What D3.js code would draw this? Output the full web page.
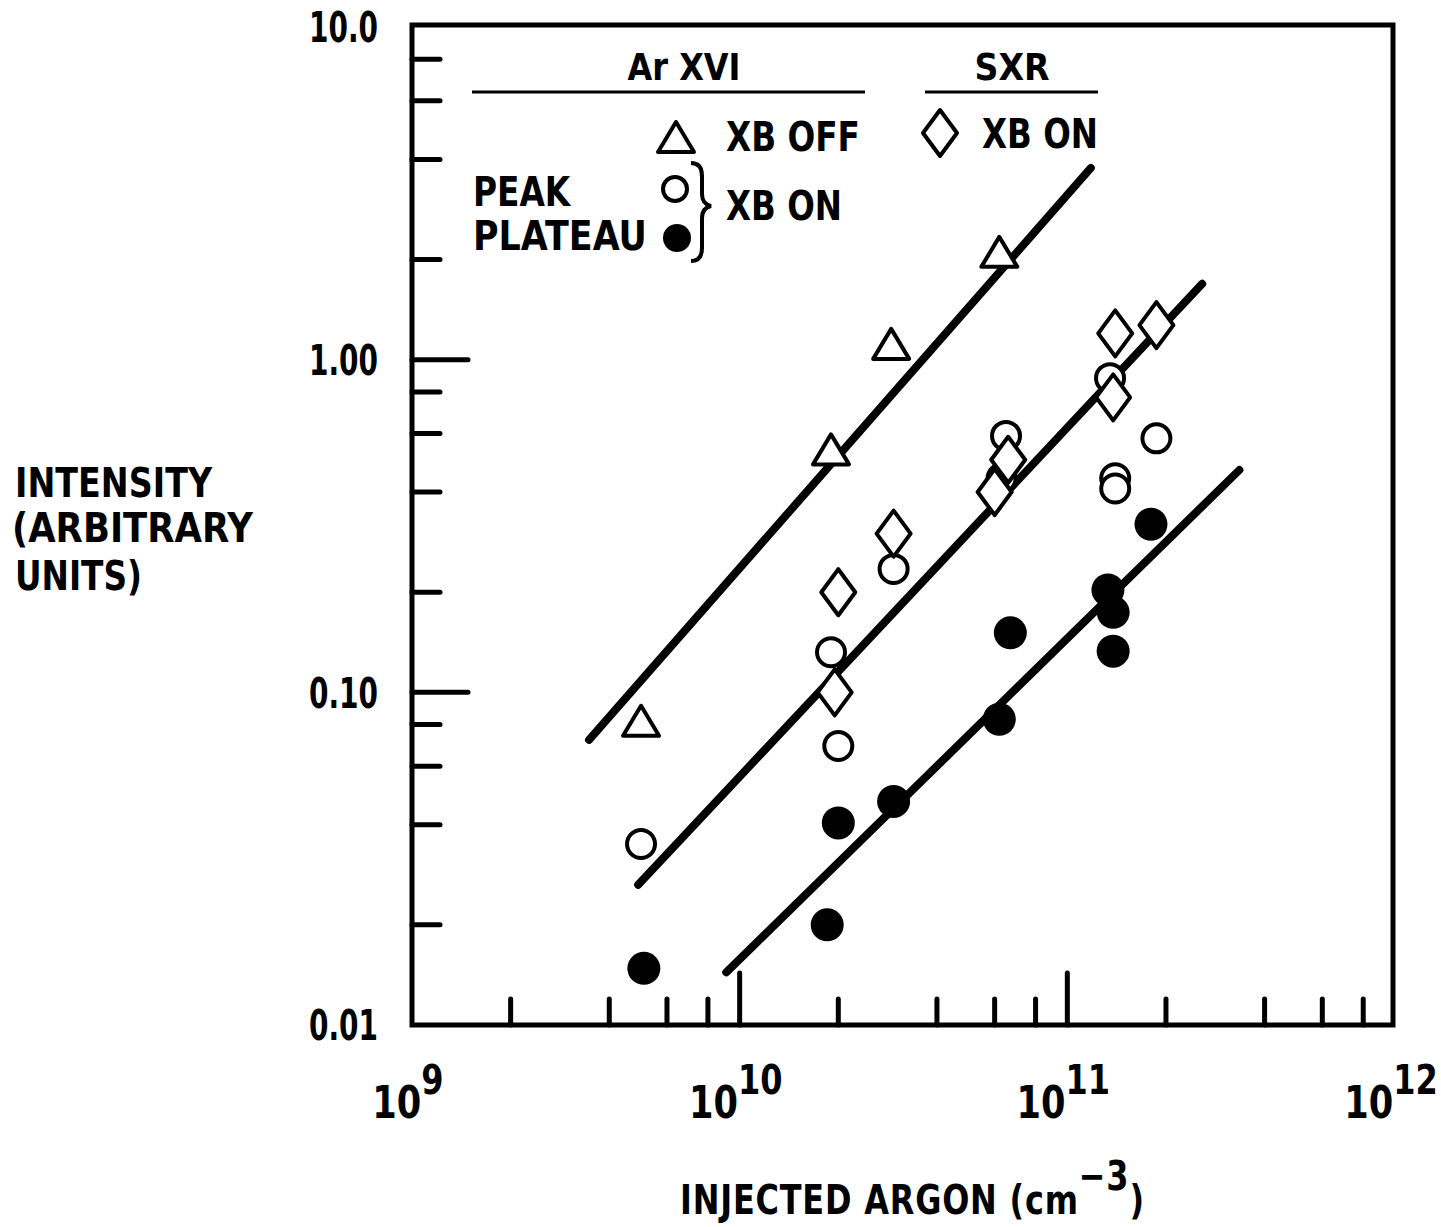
<!DOCTYPE html>
<meta charset="utf-8">
<style>
body { margin: 0; background: #fff; }
svg text {
  font-family: "DejaVu Sans", sans-serif;
  font-weight: bold;
  fill: #000;
}
.frame { fill: none; stroke: #000; stroke-width: 5px; }
.tick { stroke: #000; stroke-width: 5px; stroke-linecap: round; }
.fit { stroke: #000; stroke-width: 8px; stroke-linecap: round; }
</style>
<html>
  <head>
    <script type="text/javascript" src="https://cdn.jsdelivr.net/npm/d3@7"></script>
  </head>
  <body>
    <script type="text/javascript">
var width = 1441
  , height = 1227
  , plotLeft = 412, plotRight = 1395, plotTop = 27, plotBottom = 1025

// tick values
var xMajor = [1e9, 1e10, 1e11, 1e12]
  , xExp = ["9", "10", "11", "12"]
  , yMajor = [0.01, 0.1, 1, 10]
  , yLabels = ["0.01", "0.10", "1.00", "10.0"]
  , mults = [2, 4, 6, 8]

// Ar XVI, XB OFF (triangles)
var triX = [5.0e9, 1.9e10, 2.9e10, 6.2e10]
  , triY = [0.081, 0.53, 1.1, 2.08]

// Ar XVI peak, XB ON (open circles)
var peakX = [5.0e9, 1.9e10, 2.0e10, 2.95e10, 6.5e10, 6.3e10, 1.35e11, 1.4e11, 1.4e11, 1.87e11]
  , peakY = [0.035, 0.132, 0.069, 0.235, 0.59, 0.44, 0.88, 0.44, 0.41, 0.58]

// Ar XVI plateau, XB ON (filled circles)
var platX = [5.1e9, 1.85e10, 2.0e10, 2.95e10, 6.2e10, 6.7e10, 1.33e11, 1.38e11, 1.38e11, 1.8e11]
  , platY = [0.0148, 0.02, 0.0405, 0.047, 0.083, 0.151, 0.203, 0.174, 0.133, 0.32]

// SXR, XB ON (diamonds)
var sxrX = [1.95e10, 2.0e10, 2.95e10, 6.0e10, 6.6e10, 1.38e11, 1.4e11, 1.87e11]
  , sxrY = [0.1, 0.2, 0.3, 0.4, 0.5, 0.77, 1.2, 1.27]

// fitted lines [x0, y0, x1, y1]
var fitTop = [3.47e9, 0.072, 1.18e11, 3.77]
  , fitMid = [4.9e9, 0.0264, 2.58e11, 1.69]
  , fitLow = [9.1e9, 0.0144, 3.35e11, 0.466]

var x = d3.scaleLog().domain([1e9, 1e12]).range([plotLeft, plotRight])
var y = d3.scaleLog().domain([0.01, 10]).range([plotBottom, plotTop])

var svg = d3.select("body").append("svg")
    .attr("width", width)
    .attr("height", height)

// squeeze a text horizontally (condensed look) about its anchor x
function squeeze(sel, k) {
  sel.each(function() {
    var ax = +this.getAttribute("x")
    this.setAttribute("transform", "translate(" + ax + ",0) scale(" + k + ",1) translate(" + (-ax) + ",0)")
  })
}
function fitWidth(sel, w) {
  sel.each(function() {
    var bw = this.getBBox().width
    squeeze(d3.select(this), w / bw)
  })
}

// minor + major ticks
var xTicks = []
xMajor.slice(0, 3).forEach(function(d) {
  mults.forEach(function(m) { xTicks.push({v: d * m, len: 26}) })
  if (d > 1e9) xTicks.push({v: d, len: 52})
})
svg.selectAll(".xtick").data(xTicks).enter().append("line")
    .attr("class", "tick")
    .attr("x1", function(d) { return x(d.v) }).attr("x2", function(d) { return x(d.v) })
    .attr("y1", plotBottom).attr("y2", function(d) { return plotBottom - d.len })

var yTicks = []
yMajor.slice(0, 3).forEach(function(d) {
  mults.forEach(function(m) { yTicks.push({v: d * m, len: 28}) })
  if (d > 0.01) yTicks.push({v: d, len: 56})
})
svg.selectAll(".ytick").data(yTicks).enter().append("line")
    .attr("class", "tick")
    .attr("y1", function(d) { return y(d.v) }).attr("y2", function(d) { return y(d.v) })
    .attr("x1", plotLeft).attr("x2", function(d) { return plotLeft + d.len })

svg.append("rect").attr("class", "frame")
    .attr("x", plotLeft).attr("y", plotTop - 2)
    .attr("width", plotRight - plotLeft - 2).attr("height", plotBottom - plotTop + 2)

// y tick labels
svg.selectAll(".ylab").data(yMajor).enter().append("text")
    .attr("x", 378)
    .attr("y", function(d) { return y(d) })
    .attr("dy", "0.36em")
    .attr("text-anchor", "end")
    .style("font-size", "43px")
    .text(function(d, i) { return yLabels[i] })
    .call(fitWidth, 69)

// x tick labels: 10 with exponent, centred under the tick
var xl = svg.selectAll(".xlab").data(xMajor).enter().append("text")
    .attr("x", function(d) { return x(d) - 4 })
    .attr("y", 1118)
    .attr("text-anchor", "middle")
    .style("font-size", "44px")
xl.append("tspan").text("10")
xl.append("tspan").attr("dy", -24).style("font-size", "40px")
    .text(function(d, i) { return xExp[i] })
xl.call(squeeze, 0.8)

// fitted lines
svg.selectAll(".fit").data([fitTop, fitMid, fitLow]).enter().append("line")
    .attr("class", "fit")
    .attr("x1", function(d) { return x(d[0]) }).attr("y1", function(d) { return y(d[1]) })
    .attr("x2", function(d) { return x(d[2]) }).attr("y2", function(d) { return y(d[3]) })

var triPath = "M0,-17L18,13L-18,13Z"
  , diaPath = "M0,-23L17,0L0,23L-17,0Z"

function pts(xs, ys) { return xs.map(function(v, i) { return [v, ys[i]] }) }

svg.selectAll(".plat").data(pts(platX, platY)).enter().append("circle")
    .attr("cx", function(d) { return x(d[0]) }).attr("cy", function(d) { return y(d[1]) })
    .attr("r", 16.5).attr("fill", "#000")

svg.selectAll(".peak").data(pts(peakX, peakY)).enter().append("circle")
    .attr("cx", function(d) { return x(d[0]) }).attr("cy", function(d) { return y(d[1]) })
    .attr("r", 14).attr("fill", "#fff").attr("stroke", "#000").attr("stroke-width", 4)

svg.selectAll(".sxr").data(pts(sxrX, sxrY)).enter().append("path")
    .attr("d", diaPath)
    .attr("transform", function(d) { return "translate(" + x(d[0]) + "," + y(d[1]) + ")" })
    .attr("fill", "#fff").attr("stroke", "#000").attr("stroke-width", 4).attr("stroke-linejoin", "round")

svg.selectAll(".tri").data(pts(triX, triY)).enter().append("path")
    .attr("d", triPath)
    .attr("transform", function(d) { return "translate(" + x(d[0]) + "," + y(d[1]) + ")" })
    .attr("fill", "#fff").attr("stroke", "#000").attr("stroke-width", 4).attr("stroke-linejoin", "round")

// legend
var lg = svg.append("g")
lg.append("text").attr("x", 684).attr("y", 80).attr("text-anchor", "middle")
    .style("font-size", "37px").text("Ar XVI").call(fitWidth, 113)
lg.append("line").attr("x1", 472).attr("x2", 865).attr("y1", 92).attr("y2", 92)
    .attr("stroke", "#000").attr("stroke-width", 3)
lg.append("text").attr("x", 1012).attr("y", 80).attr("text-anchor", "middle")
    .style("font-size", "37px").text("SXR").call(fitWidth, 75)
lg.append("line").attr("x1", 925).attr("x2", 1098).attr("y1", 92).attr("y2", 92)
    .attr("stroke", "#000").attr("stroke-width", 3)

lg.append("path").attr("d", triPath).attr("transform", "translate(676,139)")
    .attr("fill", "#fff").attr("stroke", "#000").attr("stroke-width", 4).attr("stroke-linejoin", "round")
lg.append("text").attr("x", 726).attr("y", 151).style("font-size", "40px").text("XB OFF").call(fitWidth, 134)
lg.append("path").attr("d", diaPath).attr("transform", "translate(940,133)")
    .attr("fill", "#fff").attr("stroke", "#000").attr("stroke-width", 4).attr("stroke-linejoin", "round")
lg.append("text").attr("x", 982).attr("y", 148).style("font-size", "40px").text("XB ON").call(fitWidth, 116)

lg.append("text").attr("x", 473).attr("y", 206).style("font-size", "40px").text("PEAK").call(fitWidth, 99)
lg.append("text").attr("x", 473).attr("y", 250).style("font-size", "40px").text("PLATEAU").call(fitWidth, 174)
lg.append("circle").attr("cx", 675).attr("cy", 189).attr("r", 12)
    .attr("fill", "#fff").attr("stroke", "#000").attr("stroke-width", 4)
lg.append("circle").attr("cx", 677).attr("cy", 238).attr("r", 14).attr("fill", "#000")
lg.append("path")
    .attr("d", "M691,163 Q702,163 702,176 L702,194 Q702,204 711,206 Q702,208 702,218 L702,248 Q702,261 691,261")
    .attr("fill", "none").attr("stroke", "#000").attr("stroke-width", 4)
lg.append("text").attr("x", 726).attr("y", 220).style("font-size", "40px").text("XB ON").call(fitWidth, 116)

// axis titles
var yt = svg.append("g")
yt.append("text").attr("x", 15).attr("y", 497).style("font-size", "40px").text("INTENSITY").call(fitWidth, 198)
yt.append("text").attr("x", 12).attr("y", 542).style("font-size", "40px").text("(ARBITRARY").call(fitWidth, 242)
yt.append("text").attr("x", 15).attr("y", 590).style("font-size", "40px").text("UNITS)").call(fitWidth, 127)

var xt = svg.append("text").attr("x", 680).attr("y", 1214).style("font-size", "40px").style("letter-spacing", "1px")
xt.append("tspan").text("INJECTED ARGON (cm")
xt.append("tspan").attr("dy", -24).text("\u22123")
xt.append("tspan").attr("dy", 24).text(")")
xt.call(fitWidth, 465)
    </script>
  </body>
</html>
